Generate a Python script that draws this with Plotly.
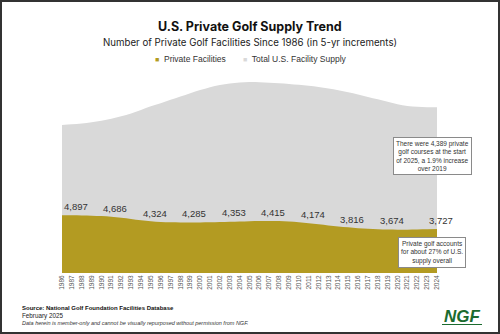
import plotly.graph_objects as go

years = list(range(1986, 2025))
private_facilities = [4897, 4895, 4885, 4870, 4840, 4780, 4690, 4590, 4480, 4400,
                      4340, 4300, 4285, 4280, 4285, 4300, 4320, 4345, 4370, 4395,
                      4410, 4415, 4405, 4370, 4310, 4230, 4140, 4040, 3950, 3880,
                      3810, 3760, 3720, 3690, 3675, 3680, 3695, 3710, 3727]
total_supply = [12560, 12620, 12700, 12800, 12930, 13100, 13300, 13550, 13850, 14150,
                14420, 14700, 14980, 15260, 15530, 15780, 15960, 16080, 16170, 16210,
                16200, 16160, 16110, 16050, 15980, 15900, 15800, 15660, 15510, 15340,
                15150, 14950, 14750, 14540, 14320, 14180, 14110, 14080, 14070]
label_years = [1986, 1990, 1994, 1998, 2002, 2006, 2010, 2014, 2018, 2023]
label_values = [4897, 4686, 4324, 4285, 4353, 4415, 4174, 3816, 3674, 3727]

GOLD = "#b39b22"
GRAY = "#d9d9d9"
TXT = "#333333"

fig = go.Figure()
fig.add_trace(go.Scatter(x=years, y=total_supply, name="Total U.S. Facility Supply",
                         mode="lines", line=dict(width=0, shape="spline", color=GRAY),
                         fill="tozeroy", fillcolor=GRAY, showlegend=False, hoverinfo="skip"))
fig.add_trace(go.Scatter(x=years, y=private_facilities, name="Private Facilities",
                         mode="lines", line=dict(width=0, shape="spline", color=GOLD),
                         fill="tozeroy", fillcolor=GOLD, showlegend=False, hoverinfo="skip"))


def px_x(px):
    return (px - 62) / 375.0


def px_y(py):
    return (273 - py) / 212.0


anns = []
for yr, v in zip(label_years, label_values):
    anns.append(dict(x=yr, y=v, xref="x", yref="y", text=f"{v:,}",
                     xanchor="left", yanchor="middle", yshift=9, showarrow=False,
                     font=dict(family="Liberation Sans, Arial", size=9.5, color=TXT)))

anns.append(dict(x=px_x(250), y=px_y(27), xref="paper", yref="paper",
                 text="<b>U.S. Private Golf Supply Trend</b>", showarrow=False,
                 xanchor="center", yanchor="middle",
                 font=dict(family="Inter, Roboto, Arial", size=12.5, color="#111")))
anns.append(dict(x=px_x(250), y=px_y(42), xref="paper", yref="paper",
                 text="Number of Private Golf Facilities Since 1986 (in 5-yr increments)", showarrow=False,
                 xanchor="center", yanchor="middle",
                 font=dict(family="Inter, Roboto, Arial", size=9.7, color="#222")))
# legend
anns.append(dict(x=px_x(153), y=px_y(59), xref="paper", yref="paper",
                 text=f"<span style='color:{GOLD};font-size:7px'>■</span>  Private Facilities", showarrow=False,
                 xanchor="left", yanchor="middle",
                 font=dict(family="Liberation Sans, Arial", size=8.5, color=TXT)))
anns.append(dict(x=px_x(241), y=px_y(59), xref="paper", yref="paper",
                 text=f"<span style='color:{GRAY};font-size:7px'>■</span>  Total U.S. Facility Supply", showarrow=False,
                 xanchor="left", yanchor="middle",
                 font=dict(family="Liberation Sans, Arial", size=8.5, color=TXT)))
# callouts
anns.append(dict(x=px_x(432), y=px_y(156), xref="paper", yref="paper",
                 text="There were 4,389 private<br>golf courses at the start<br>of 2025, a 1.9% increase<br>over 2019",
                 showarrow=False, xanchor="center", yanchor="middle", align="center",
                 bgcolor="white", bordercolor="#8a8a8a", borderwidth=1, borderpad=2,
                 font=dict(family="Liberation Sans Narrow, Liberation Sans, Arial", size=6.5, color=TXT)))
anns.append(dict(x=px_x(432), y=px_y(252), xref="paper", yref="paper",
                 text="Private golf accounts<br>for about 27% of U.S.<br>supply overall",
                 showarrow=False, xanchor="center", yanchor="middle", align="center",
                 bgcolor="white", bordercolor="#8a8a8a", borderwidth=1, borderpad=2,
                 font=dict(family="Liberation Sans Narrow, Liberation Sans, Arial", size=6.5, color=TXT)))
# footer
anns.append(dict(x=px_x(20), y=px_y(308), xref="paper", yref="paper",
                 text="<b>Source: National Golf Foundation Facilities Database</b>", showarrow=False,
                 xanchor="left", yanchor="middle",
                 font=dict(family="Liberation Sans, Arial", size=6, color="#111")))
anns.append(dict(x=px_x(20), y=px_y(315.5), xref="paper", yref="paper",
                 text="February 2025", showarrow=False, xanchor="left", yanchor="middle",
                 font=dict(family="Liberation Sans, Arial", size=6.3, color="#222")))
anns.append(dict(x=px_x(20), y=px_y(323), xref="paper", yref="paper",
                 text="<i>Data herein is member-only and cannot be visually repurposed without permission from NGF.</i>",
                 showarrow=False, xanchor="left", yanchor="middle",
                 font=dict(family="Liberation Sans, Arial", size=5.5, color="#333")))
anns.append(dict(x=px_x(462), y=px_y(316), xref="paper", yref="paper",
                 text="<b><i>NGF</i></b>", showarrow=False, xanchor="center", yanchor="middle",
                 font=dict(family="Liberation Sans, Arial", size=17, color="#1b6b2f")))

fig.update_layout(
    width=500, height=334,
    margin=dict(l=62, r=63, t=61, b=61),
    paper_bgcolor="white", plot_bgcolor="white",
    showlegend=False,
    annotations=anns,
    xaxis=dict(range=[1986, 2024], tickmode="array", tickvals=years,
               ticktext=[str(y) for y in years], tickangle=-90,
               tickfont=dict(family="Liberation Sans, Arial", size=6.5, color="#555"),
               showgrid=False, zeroline=False, showline=False, ticks="", ticklen=0),
    yaxis=dict(range=[0, 18000], visible=False, showgrid=False, zeroline=False),
)

fig.add_shape(type="line", xref="paper", yref="paper",
              x0=px_x(442), x1=px_x(482), y0=px_y(324.5), y1=px_y(324.5),
              line=dict(color="#1b6b2f", width=1))
fig.add_shape(type="rect", xref="paper", yref="paper",
              x0=px_x(1), x1=px_x(499), y0=px_y(1), y1=px_y(333),
              line=dict(color="#333333", width=2))

fig.write_html("out.html")
